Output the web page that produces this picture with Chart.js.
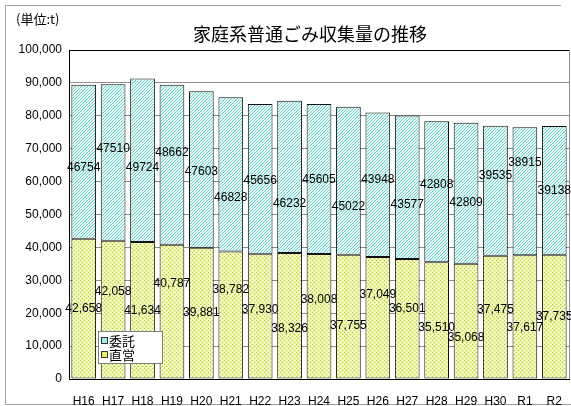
<!DOCTYPE html>
<html>
<head>
<meta charset="utf-8">
<script src="https://cdn.jsdelivr.net/npm/chart.js@4.4.1/dist/chart.umd.min.js"></script>
<style>
  html, body { margin: 0; padding: 0; background: #fff; }
  #wrap { width: 571px; height: 406px; }
</style>
</head>
<body>
<div id="wrap"><canvas id="chartGomi" width="571" height="406"></canvas></div>
<script>
// ========== データ ==========
const categories = ['H16','H17','H18','H19','H20','H21','H22','H23','H24','H25','H26','H27','H28','H29','H30','R1','R2'];
const chokuei = [42658, 42058, 41634, 40787, 39881, 38782, 37930, 38326, 38008, 37755, 37049, 36501, 35510, 35068, 37475, 37617, 37735];
const itaku   = [46754, 47510, 49724, 48662, 47603, 46828, 45656, 46232, 45605, 45022, 43948, 43577, 42808, 42809, 39535, 38915, 39138];
const yMax = 100000;
const yStep = 10000;

// ラベルの上下ずらし（px）
const chokueiShift = [0, -18, 0, -28, 0, -25, -7, 13, -17, 9, -23, -10, 7, 17, -7, 11, 0];
const itakuShift   = [6, -14, 7, -12, 2, 23, 2, 27, 1, 26, -5, 17, -7, 9, -15, -29, 0];

// ========== 塗りパターン ==========
function makePattern(draw, size) {
  const c = document.createElement('canvas');
  c.width = size; c.height = size;
  draw(c.getContext('2d'), size);
  return c.getContext('2d').createPattern(c, 'repeat');
}
const itakuFill = makePattern((g, s) => {
  g.fillStyle = '#dcfefc'; g.fillRect(0, 0, s, s);
  g.lineWidth = 1;
  g.strokeStyle = '#55cbc3';
  g.beginPath(); g.moveTo(-1, s + 1); g.lineTo(s + 1, -1); g.stroke();
  g.beginPath(); g.moveTo(-1, 1); g.lineTo(1, -1); g.stroke();
  g.beginPath(); g.moveTo(s - 1, s + 1); g.lineTo(s + 1, s - 1); g.stroke();
  g.strokeStyle = '#b8c2c2';
  g.beginPath(); g.moveTo(-1, s / 2 + 1); g.lineTo(s / 2 + 1, -1); g.stroke();
  g.beginPath(); g.moveTo(s / 2 - 1, s + 1); g.lineTo(s + 1, s / 2 - 1); g.stroke();
}, 6);
const chokueiFill = makePattern((g, s) => {
  g.fillStyle = '#eef6a4'; g.fillRect(0, 0, s, s);
  g.fillStyle = '#b5cb4a';
  g.fillRect(0, 0, 1, 1); g.fillRect(2, 2, 1, 1);
  g.fillStyle = '#ffffff';
  g.fillRect(2, 0, 1, 1); g.fillRect(0, 2, 1, 1);
}, 4);

// ========== 装飾プラグイン ==========
const decor = {
  id: 'decor',
  beforeDraw(chart) {
    const ctx = chart.ctx;
    ctx.save();
    ctx.fillStyle = '#fff';
    ctx.fillRect(0, 0, chart.width, chart.height);
    ctx.strokeStyle = '#a0a0a0';
    ctx.lineWidth = 1;
    ctx.beginPath();
    ctx.moveTo(561, 5.5); ctx.lineTo(5.5, 5.5); ctx.lineTo(5.5, 404.5); ctx.lineTo(chart.width, 404.5);
    ctx.stroke();
    ctx.restore();
  },
  afterDatasetsDraw(chart) {
    const ctx = chart.ctx;
    const area = chart.chartArea;
    ctx.save();

    // 枠線
    ctx.lineWidth = 1;
    ctx.strokeStyle = '#000';
    ctx.beginPath(); ctx.moveTo(area.left, area.top + 0.5); ctx.lineTo(area.right, area.top + 0.5); ctx.stroke();
    ctx.strokeStyle = '#909090';
    ctx.beginPath(); ctx.moveTo(area.right + 0.5, area.top); ctx.lineTo(area.right + 0.5, area.bottom); ctx.stroke();

    // データラベル
    ctx.font = "12px 'Liberation Sans', Arial, sans-serif";
    ctx.fillStyle = '#000';
    ctx.textAlign = 'center';
    ctx.textBaseline = 'middle';
    const shifts = [chokueiShift, itakuShift];
    chart.data.datasets.forEach((ds, di) => {
      chart.getDatasetMeta(di).data.forEach((bar, i) => {
        const v = ds.data[i];
        const text = di === 0 ? v.toLocaleString('en-US') : String(v);
        const y = (bar.y + bar.base) / 2 + shifts[di][i];
        ctx.fillText(text, bar.x, y);
      });
    });

    // 凡例
    const lx = 98.5, ly = 331.5, lw = 64, lh = 32;
    ctx.fillStyle = '#fff';
    ctx.fillRect(lx, ly, lw, lh);
    ctx.strokeStyle = '#808080';
    ctx.strokeRect(lx, ly, lw, lh);
    const items = [
      { label: chart.data.datasets[1].label, fill: '#9ff0ec', y: 341 },
      { label: chart.data.datasets[0].label, fill: '#e6ee66', y: 355 }
    ];
    ctx.font = "13px 'Noto Sans CJK JP', sans-serif";
    ctx.textAlign = 'left';
    items.forEach(it => {
      ctx.fillStyle = it.fill;
      ctx.fillRect(101.5, it.y - 3.5, 6, 6);
      ctx.strokeStyle = '#333';
      ctx.strokeRect(101.5, it.y - 3.5, 6, 6);
      ctx.fillStyle = '#000';
      ctx.fillText(it.label, 109, it.y);
    });

    // タイトル
    ctx.textAlign = 'center';
    ctx.font = "18px 'Noto Sans CJK JP', sans-serif";
    ctx.fillText('家庭系普通ごみ収集量の推移', 310, 34);
    ctx.textAlign = 'left';
    ctx.font = "13px 'Noto Sans CJK JP', sans-serif";
    ctx.fillText('(単位:t)', 16, 19);

    ctx.restore();
  }
};

// ========== グラフ ==========
new Chart(document.getElementById('chartGomi'), {
  type: 'bar',
  data: {
    labels: categories,
    datasets: [
      {
        label: '直営',
        data: chokuei,
        backgroundColor: chokueiFill,
        borderColor: '#111',
        borderWidth: 1,
        borderSkipped: false,
        categoryPercentage: 1.0,
        barPercentage: 0.84
      },
      {
        label: '委託',
        data: itaku,
        backgroundColor: itakuFill,
        borderColor: '#111',
        borderWidth: 1,
        borderSkipped: false,
        categoryPercentage: 1.0,
        barPercentage: 0.84
      }
    ]
  },
  options: {
    responsive: false,
    animation: false,
    devicePixelRatio: 1,
    layout: { padding: { top: 50, right: 2, left: 0, bottom: 0 } },
    plugins: {
      legend: { display: false },
      tooltip: { enabled: false }
    },
    scales: {
      x: {
        stacked: true,
        grid: { display: false },
        border: { color: '#000', width: 1 },
        ticks: {
          color: '#000',
          padding: 7,
          maxRotation: 0,
          font: { family: "'Liberation Sans', Arial, sans-serif", size: 12 }
        },
        afterFit(scale) { scale.height = 27; }
      },
      y: {
        stacked: true,
        min: 0,
        max: yMax,
        grid: {
          color: ctx => (ctx.tick && ctx.tick.value === yMax) ? '#000' : '#8c8c8c',
          drawTicks: false
        },
        border: { color: '#000', width: 1 },
        ticks: {
          stepSize: yStep,
          color: '#000',
          padding: 7,
          font: { family: "'Liberation Sans', Arial, sans-serif", size: 12 },
          callback: v => v.toLocaleString('en-US')
        },
        afterFit(scale) { scale.width = 69; }
      }
    }
  },
  plugins: [decor]
});
</script>
</body>
</html>
